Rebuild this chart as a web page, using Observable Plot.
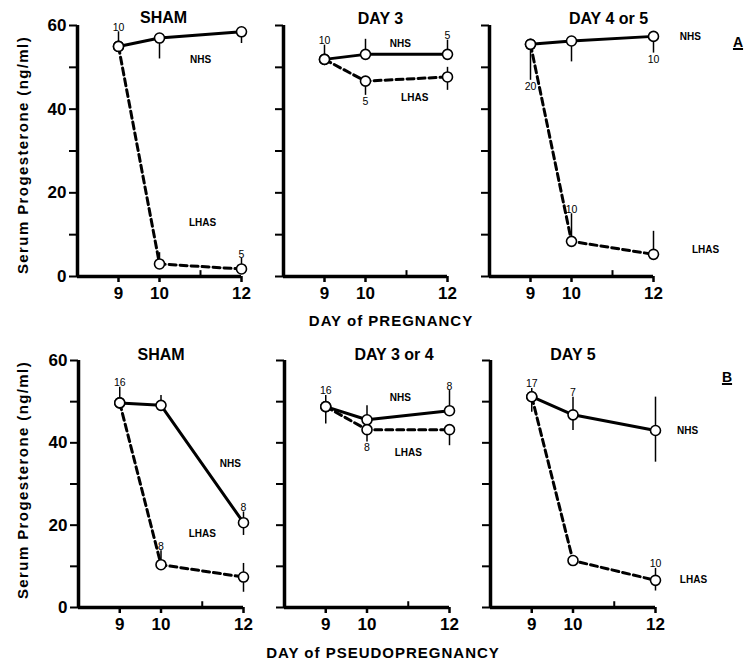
<!DOCTYPE html>
<html><head><meta charset="utf-8">
<script src="https://cdn.jsdelivr.net/npm/d3@7"></script>
<script src="https://cdn.jsdelivr.net/npm/@observablehq/plot@0.6"></script>
<style>
body{margin:0;background:#fff;}
#chart{position:relative;width:747px;height:663px;font-family:"Liberation Sans",Arial,sans-serif;color:#000;overflow:hidden;}
.panel{position:absolute;}
.lbl{position:absolute;font-weight:bold;white-space:nowrap;color:#000;}
</style></head><body><div id="chart"></div>
<script>
// ---------- data ----------
const days = [9, 10, 12];
const panelTitles = ["SHAM", "DAY 3", "DAY 4 or 5", "SHAM", "DAY 3 or 4", "DAY 5"];
const rowTitles = ["DAY of PREGNANCY", "DAY of PSEUDOPREGNANCY"];
const rowLetters = ["A", "B"];
const yLabel = "Serum Progesterone (ng/ml)";
const yTicks = [0, 10, 20, 30, 40, 50, 60];
const yTickLabels = [0, 20, 40, 60];
const xTicks = [9, 10, 12];
const xMinorTicks = [11];
const xDomain = [8, 12];
const yDomain = [0, 60];

const nhsValues  = [[55, 57, 58.5], [51.9, 53.1, 53.1], [55.5, 56.3, 57.4], [49.7, 49.1, 20.6], [48.8, 45.6, 47.8], [51.2, 46.8, 43.0]];
const lhasValues = [[55, 3.0, 1.8],  [51.9, 46.7, 47.7], [55.5, 8.4, 5.3],   [49.7, 10.4, 7.4],  [48.8, 43.2, 43.2], [51.2, 11.4, 6.6]];
const nhsErrUp    = [[3.5, 0, 0], [3.4, 3.6, 3.4], [0, 0, 0], [3.8, 2.4, 2.6], [2.7, 3.4, 4.9], [2.0, 4.3, 8.1]];
const nhsErrDown  = [[0, 5, 2.8], [0, 0, 0], [8.6, 5, 4], [0, 0, 3.1], [4.2, 0, 0], [3.8, 3.8, 7.7]];
const lhasErrUp   = [[0, 2.7, 2.5], [0, 0, 2.3], [0, 6.6, 5.5], [0, 3.4, 3.3], [0, 0, 0], [0, 0, 2.9]];
const lhasErrDown = [[0, 0, 0], [0, 3.4, 3.2], [0, 0, 0], [0, 0, 3.7], [0, 3.0, 3.9], [0, 0, 2.6]];

const nLabels = [
  {panel: 0, series: "NHS", day: 9, n: "10", pos: "top"},
  {panel: 0, series: "LHAS", day: 12, n: "5", pos: "top"},
  {panel: 1, series: "NHS", day: 9, n: "10", pos: "top"},
  {panel: 1, series: "NHS", day: 12, n: "5", pos: "top"},
  {panel: 1, series: "LHAS", day: 10, n: "5", pos: "bottom"},
  {panel: 2, series: "NHS", day: 9, n: "20", pos: "bottom"},
  {panel: 2, series: "NHS", day: 12, n: "10", pos: "bottom"},
  {panel: 2, series: "LHAS", day: 10, n: "10", pos: "top"},
  {panel: 3, series: "NHS", day: 9, n: "16", pos: "top"},
  {panel: 3, series: "NHS", day: 12, n: "8", pos: "top"},
  {panel: 3, series: "LHAS", day: 10, n: "8", pos: "top"},
  {panel: 4, series: "NHS", day: 9, n: "16", pos: "top"},
  {panel: 4, series: "NHS", day: 12, n: "8", pos: "top"},
  {panel: 4, series: "LHAS", day: 10, n: "8", pos: "bottom"},
  {panel: 5, series: "NHS", day: 9, n: "17", pos: "top"},
  {panel: 5, series: "NHS", day: 10, n: "7", pos: "top"},
  {panel: 5, series: "LHAS", day: 12, n: "10", pos: "top"}
];

const seriesLabels = [
  {panel: 0, text: "NHS", day: 11.0, value: 51.9}, {panel: 0, text: "LHAS", day: 11.05, value: 12.9},
  {panel: 1, text: "NHS", day: 10.85, value: 55.7}, {panel: 1, text: "LHAS", day: 11.2, value: 42.6},
  {panel: 2, text: "NHS", day: 12.9, value: 57.2}, {panel: 2, text: "LHAS", day: 13.27, value: 6.5},
  {panel: 3, text: "NHS", day: 11.68, value: 35}, {panel: 3, text: "LHAS", day: 11.0, value: 18},
  {panel: 4, text: "NHS", day: 10.81, value: 51}, {panel: 4, text: "LHAS", day: 11.0, value: 37.6},
  {panel: 5, text: "NHS", day: 12.78, value: 43}, {panel: 5, text: "LHAS", day: 12.92, value: 6.8}
];

// ---------- layout ----------
const layout = {
  rows: [
    {top: 0, marginTop: 25, plotH: 251, axisX: [77, 283, 489], plotW: 164},
    {top: 330, marginTop: 30, plotH: 247, axisX: [78, 284, 490], plotW: 165}
  ],
  marginLeft: 50, marginRight: 70, marginBottom: 35,
  titleDx: [4, 15, 37, 0, 27, 0],
  titleDy: [-3, -2, -2, -1, -1, -1],
  minorTickLen: 1.4
};

const chart = document.getElementById("chart");
const font = '"Liberation Sans", Arial, sans-serif';

for (let p = 0; p < 6; p++) {
  const row = p < 3 ? 0 : 1, col = p % 3;
  const L = layout.rows[row];
  const data = [];
  days.forEach((d, i) => {
    data.push({series: "NHS", day: d, value: nhsValues[p][i], lo: nhsValues[p][i] - nhsErrDown[p][i], hi: nhsValues[p][i] + nhsErrUp[p][i]});
    data.push({series: "LHAS", day: d, value: lhasValues[p][i], lo: lhasValues[p][i] - lhasErrDown[p][i], hi: lhasValues[p][i] + lhasErrUp[p][i]});
  });
  const find = (s, d) => data.find(e => e.series === s && e.day === d);
  const nl = nLabels.filter(e => e.panel === p).map(e => {
    const pt = find(e.series, e.day);
    return {...e, anchorY: e.pos === "top" ? pt.hi : pt.lo};
  });
  const sl = seriesLabels.filter(e => e.panel === p);

  const svg = Plot.plot({
    width: layout.marginLeft + L.plotW + layout.marginRight,
    height: L.marginTop + L.plotH + layout.marginBottom,
    marginLeft: layout.marginLeft, marginRight: layout.marginRight,
    marginTop: L.marginTop, marginBottom: layout.marginBottom,
    x: {domain: xDomain},
    y: {domain: yDomain},
    style: {overflow: "visible", background: "transparent", fontFamily: font, color: "black"},
    marks: [
      Plot.axisY({ticks: yTicks, tickSize: 8, tickPadding: 3, strokeWidth: 2,
        tickFormat: col === 0 ? (d => yTickLabels.includes(d) ? String(d) : "") : (() => ""),
        fontSize: 17, fontWeight: "bold", label: null}),
      Plot.axisX({ticks: xTicks, tickSize: 6, tickPadding: 4, strokeWidth: 2.5,
        fontSize: 17, fontWeight: "bold", label: null, tickFormat: d => String(d)}),
      Plot.ruleX(xMinorTicks, {y1: yDomain[0], y2: yDomain[0] + layout.minorTickLen, stroke: "black", strokeWidth: 2}),
      Plot.ruleX([xDomain[0]], {strokeWidth: 3.5}),
      Plot.ruleY([yDomain[0]], {strokeWidth: 3.5}),
      Plot.line(data.filter(d => d.series === "LHAS"), {x: "day", y: "value", stroke: "black", strokeWidth: 3, strokeDasharray: "7,4"}),
      Plot.line(data.filter(d => d.series === "NHS"), {x: "day", y: "value", stroke: "black", strokeWidth: 3}),
      Plot.ruleX(data.filter(d => d.hi > d.lo), {x: "day", y1: "lo", y2: "hi", stroke: "black", strokeWidth: 1.5}),
      Plot.dot(data, {x: "day", y: "value", r: 5, fill: "white", stroke: "black", strokeWidth: 1.6}),
      Plot.text(nl.filter(e => e.pos === "top"), {x: "day", y: "anchorY", text: "n", lineAnchor: "bottom", dy: -1, fontSize: 10.5}),
      Plot.text(nl.filter(e => e.pos === "bottom"), {x: "day", y: "anchorY", text: "n", lineAnchor: "top", dy: 2, fontSize: 10.5}),
      Plot.text(sl, {x: "day", y: "value", text: "text", fontSize: 10, fontWeight: "bold", ariaLabel: "series-label"}),
      Plot.text([panelTitles[p]], {frameAnchor: "top", text: d => d, lineAnchor: "bottom",
        dx: layout.titleDx[p], dy: layout.titleDy[p], fontSize: 16, fontWeight: "bold", ariaLabel: "panel-title"})
    ]
  });
  d3.select(svg).selectAll('g[aria-label="series-label"] text').style("letter-spacing", "1.6px");
  d3.select(svg).selectAll('g[aria-label="panel-title"] text').style("letter-spacing", "0.6px");
  svg.classList.add("panel");
  svg.style.left = (L.axisX[col] - layout.marginLeft) + "px";
  svg.style.top = L.top + "px";
  chart.appendChild(svg);
}

function addLabel(text, x, y, size, extra) {
  const el = document.createElement("div");
  el.className = "lbl";
  el.textContent = text;
  el.style.left = x + "px";
  el.style.top = y + "px";
  el.style.fontSize = size + "px";
  el.style.transform = "translate(-50%, -50%)" + (extra && extra.rotate ? " rotate(-90deg)" : "");
  if (extra && extra.spacing) el.style.letterSpacing = extra.spacing + "px";
  if (extra && extra.underline) { el.style.textDecoration = "underline"; el.style.textDecorationThickness = "2px"; }
  chart.appendChild(el);
}
addLabel(yLabel, 22, 155, 15, {rotate: true, spacing: 1.4});
addLabel(yLabel, 22, 480, 15, {rotate: true, spacing: 1.4});
addLabel(rowTitles[0], 391, 320, 15, {spacing: 1});
addLabel(rowTitles[1], 383, 652, 15, {spacing: 1});
addLabel(rowLetters[0], 738, 42, 14, {underline: true});
addLabel(rowLetters[1], 727, 377, 14, {underline: true});
</script></body></html>
